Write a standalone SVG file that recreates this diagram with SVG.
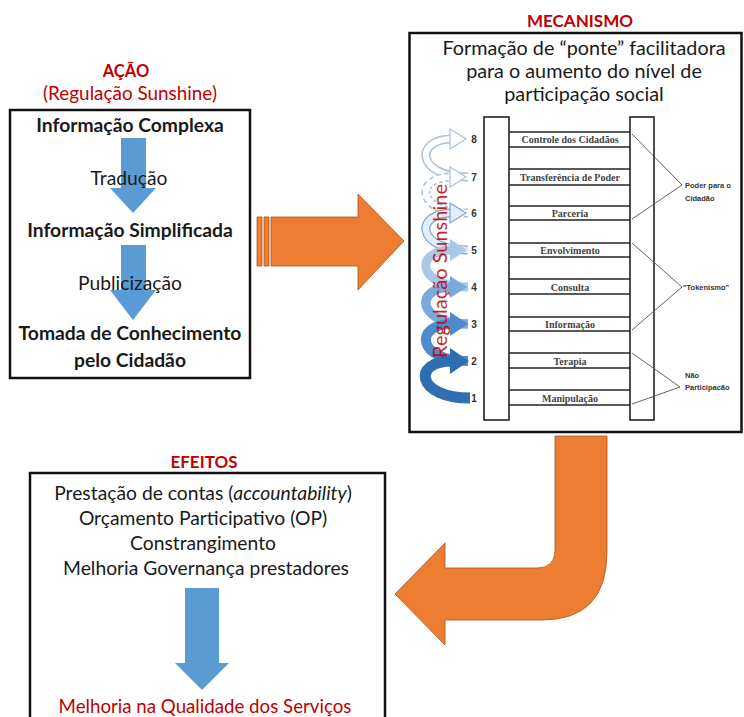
<svg xmlns="http://www.w3.org/2000/svg" width="744" height="717" viewBox="0 0 744 717">
<style>
.red{fill:#C00000;font-family:Lato,"Liberation Sans",sans-serif}
.b{font-weight:bold}
.t{fill:#1a1a1a;font-family:Lato,"Liberation Sans",sans-serif;font-size:19.3px;text-anchor:middle}
.box{fill:#fff;stroke:#111;stroke-width:2.5}
.blue{fill:#5B9BD5}
.orange{fill:#ED7D31;stroke:#A9561F;stroke-width:0.8}
.rail{fill:#fff;stroke:#222;stroke-width:1.6}
.rung{stroke:#222;stroke-width:1.6}
.rl{font-family:"Liberation Serif",serif;font-weight:bold;font-size:10px;fill:#444;text-anchor:middle}
.num{font-family:"Liberation Sans",sans-serif;font-weight:bold;font-size:10px;fill:#333;text-anchor:middle}
.br{stroke:#555;stroke-width:0.9;fill:none}
.bl{font-family:"Liberation Sans",sans-serif;font-weight:bold;font-size:7.5px;fill:#333}
.m{fill:#1a1a1a;font-family:Lato,"Liberation Sans",sans-serif;font-size:19.8px;text-anchor:middle}
</style>
<rect width="744" height="717" fill="#fff"/>

<g id="acao">
<text class="red b" x="126" y="77" font-size="16.5" text-anchor="middle">AÇÃO</text>
<text class="red" x="130" y="100" font-size="18.9" text-anchor="middle">(Regulação Sunshine)</text>
<rect class="box" x="10" y="110" width="240" height="268"/>
<path class="blue" d="M121 138 H146 V188 H156 L133 213 L110 188 H121 Z"/>
<path class="blue" d="M121 245 H146 V290 H156 L133 320 L110 290 H121 Z"/>
<text class="t b" x="130" y="132">Informação Complexa</text>
<text class="t" x="129" y="185">Tradução</text>
<text class="t b" x="130" y="237">Informação Simplificada</text>
<text class="t" x="130" y="290">Publicização</text>
<text class="t b" x="130" y="340">Tomada de Conhecimento</text>
<text class="t b" x="130" y="367">pelo Cidadão</text>
</g>

<g id="mecanismo">
<text class="red b" x="580" y="27" font-size="17" text-anchor="middle">MECANISMO</text>
<rect class="box" x="409.5" y="33" width="332" height="399"/>
<text class="m" x="584" y="55">Formação de “ponte” facilitadora</text>
<text class="m" x="584" y="78">para o aumento do nível de</text>
<text class="m" x="584" y="101">participação social</text>
</g>

<g id="ladder">
<rect class="rail" x="484" y="117" width="25" height="303"/>
<rect class="rail" x="630" y="117" width="24" height="303"/>
<g class="rung">
<line x1="509" y1="132" x2="630" y2="132"/><line x1="509" y1="147" x2="630" y2="147"/>
<line x1="509" y1="169" x2="630" y2="169"/><line x1="509" y1="185" x2="630" y2="185"/>
<line x1="509" y1="206" x2="630" y2="206"/><line x1="509" y1="220" x2="630" y2="220"/>
<line x1="509" y1="243" x2="630" y2="243"/><line x1="509" y1="257" x2="630" y2="257"/>
<line x1="509" y1="279" x2="630" y2="279"/><line x1="509" y1="294" x2="630" y2="294"/>
<line x1="509" y1="317" x2="630" y2="317"/><line x1="509" y1="331" x2="630" y2="331"/>
<line x1="509" y1="353" x2="630" y2="353"/><line x1="509" y1="368" x2="630" y2="368"/>
<line x1="509" y1="390" x2="630" y2="390"/><line x1="509" y1="405" x2="630" y2="405"/>
</g>
<text class="rl" x="570" y="143">Controle dos Cidadãos</text>
<text class="rl" x="570" y="181">Transferência de Poder</text>
<text class="rl" x="570" y="217">Parceria</text>
<text class="rl" x="570" y="254">Envolvimento</text>
<text class="rl" x="570" y="291">Consulta</text>
<text class="rl" x="570" y="328">Informação</text>
<text class="rl" x="570" y="365">Terapia</text>
<text class="rl" x="570" y="402">Manipulação</text>
<text class="num" x="474" y="143">8</text>
<text class="num" x="474" y="181">7</text>
<text class="num" x="474" y="217">6</text>
<text class="num" x="474" y="254">5</text>
<text class="num" x="474" y="291">4</text>
<text class="num" x="474" y="328">3</text>
<text class="num" x="474" y="365">2</text>
<text class="num" x="474" y="402">1</text>
<path class="br" d="M632 134 L682 185 L632 219"/>
<path class="br" d="M632 243 L682 287 L632 330"/>
<path class="br" d="M632 353 L680 387 L632 404"/>
<text class="bl" x="685" y="188">Poder para o</text>
<text class="bl" x="685" y="201">Cidadão</text>
<text class="bl" x="683" y="290">"Tokenismo"</text>
<text class="bl" x="685" y="378">Não</text>
<text class="bl" x="685" y="390">Participacão</text>
</g>

<g id="espiral">
<path d="M468 177 C416 177 414 139 452 139" fill="none" stroke="#A9C0DC" stroke-width="9"/>
<path d="M468 177 C416 177 414 139 452 139" fill="none" stroke="#fff" stroke-width="6"/>
<polygon points="450,129 466,139 450,149" fill="#fff" stroke="#A9C0DC" stroke-width="1.2"/>
<path d="M468 213 C416 213 414 177 452 177" fill="none" stroke="#A9C0DC" stroke-width="9" stroke-dasharray="4 3"/>
<path d="M468 213 C416 213 414 177 452 177" fill="none" stroke="#fff" stroke-width="6"/>
<polygon points="450,167 466,177 450,187" fill="#fff" stroke="#A9C0DC" stroke-width="1.2"/>
<path d="M468 250 C416 250 414 213 452 213" fill="none" stroke="#7FA6D0" stroke-width="9"/>
<path d="M468 250 C416 250 414 213 452 213" fill="none" stroke="#E4EEF8" stroke-width="6.5"/>
<polygon points="450,203 466,213 450,223" fill="#E4EEF8" stroke="#7FA6D0" stroke-width="1.2"/>
<path d="M468 287 C416 287 414 250 452 250" fill="none" stroke="#A9C8E8" stroke-width="9"/>
<polygon points="450,239 467,250 450,261" fill="#A9C8E8"/>
<path d="M468 324 C416 324 414 287 452 287" fill="none" stroke="#7AAADC" stroke-width="9.5"/>
<polygon points="450,276 467,287 450,298" fill="#7AAADC"/>
<path d="M468 361 C416 361 414 324 452 324" fill="none" stroke="#4D8BCB" stroke-width="10"/>
<polygon points="450,312 468,324 450,336" fill="#4D8BCB"/>
<path d="M470 398 C416 398 412 361 452 361" fill="none" stroke="#2F6EB0" stroke-width="11"/>
<polygon points="450,348 469,361 450,374" fill="#2F6EB0"/>
<text class="red" transform="translate(447,271) rotate(-90)" x="0" y="0" font-size="20" text-anchor="middle" opacity="0.85">Regulação Sunshine</text>
</g>

<g id="conectores">
<path class="orange" d="M257 217 H262 V266 H257 Z"/>
<path class="orange" d="M264 217 H269 V266 H264 Z"/>
<path class="orange" d="M271 217 H358 V194 L404 241 L358 290 V266 H271 Z"/>
<path class="orange" d="M555 436 H607 V552 Q607 620 542 620 H445 V645 L395 594 L445 543 V568 H537 Q555 568 555 550 Z"/>
</g>

<g id="efeitos">
<text class="red b" x="204" y="468" font-size="17" text-anchor="middle">EFEITOS</text>
<rect class="box" x="30" y="473" width="355" height="260"/>
<text class="t" x="203" y="500">Prestação de contas (<tspan font-style="italic">accountability</tspan>)</text>
<text class="t" x="203" y="525">Orçamento Participativo (OP)</text>
<text class="t" x="203" y="550">Constrangimento</text>
<text class="t" x="206" y="575">Melhoria Governança prestadores</text>
<path class="blue" d="M185 588 H219 V663 H229 L202 690 L175 663 H185 Z"/>
<text class="red" x="205" y="713" font-size="18.7" text-anchor="middle">Melhoria na Qualidade dos Serviços</text>
</g>
</svg>
